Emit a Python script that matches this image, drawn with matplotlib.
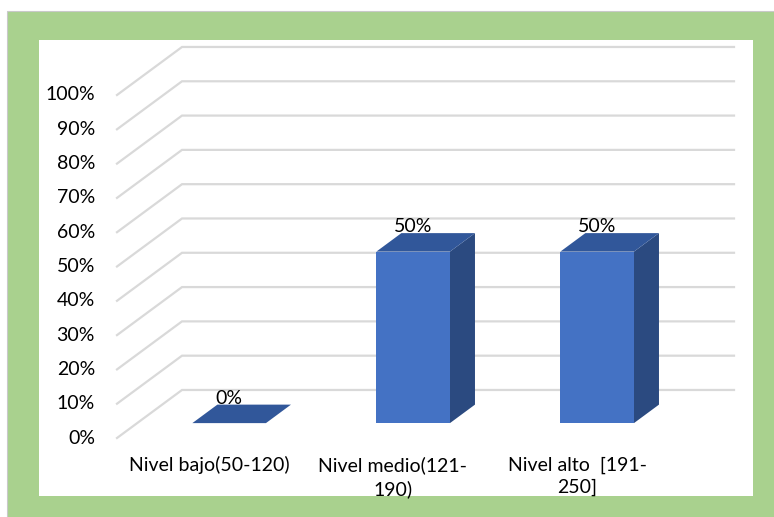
import matplotlib
matplotlib.use("Agg")
import matplotlib.pyplot as plt
from matplotlib.patches import Polygon, Rectangle

# Datos
categorias = ["Nivel bajo(50-120)", "Nivel medio(121-\n190)", "Nivel alto  [191-\n250]"]
valores = [0, 50, 50]
ticks = list(range(0, 101, 10))

plt.rcParams["font.family"] = ["Lato", "DejaVu Sans"]

# Proyección oblicua: x en "ranuras" de categoría, v en %, d = profundidad 0..1
DX, DV = 0.3533, 14.0


def proj(x, v, d):
    return x + d * DX, v + d * DV


W, H = 774, 517
fig = plt.figure(figsize=(W / 100, H / 100), dpi=100)

# Marco verde y fondo blanco del gráfico
fig.patches.append(Rectangle((7 / W, -0.01), 1, 1.01 - 11 / H, transform=fig.transFigure,
                             facecolor="#A9D18E", edgecolor="#C9C9C9", lw=0.8, zorder=0))
fig.patches.append(Rectangle((39 / W, 21 / H), 714 / W, 456 / H, transform=fig.transFigure,
                             facecolor="white", edgecolor="none", zorder=1))

ax = fig.add_axes([0, 0, 1, 1])
ax.set_zorder(3)
ax.set_xlim(-117 / 184, (W - 117) / 184)
ax.set_ylim((438 - H) / 3.43, 438 / 3.43)
ax.axis("off")
ax.patch.set_alpha(0)

n = len(categorias)
fs = 14

# Líneas de la cuadrícula: pared izquierda + pared del fondo
for v in ticks:
    pts = [proj(0, v, 0), proj(0, v, 1), proj(n, v, 1)]
    ax.plot([p[0] for p in pts], [p[1] for p in pts], color="#D9D9D9", lw=1.6,
            solid_joinstyle="miter", zorder=2)
    ax.text(-0.12, v, f"{v}%", ha="right", va="center", fontsize=fs, color="#000000")

# Barras 3D
ancho, d0, d1 = 0.4, 0.31, 0.695
for i, val in enumerate(valores):
    x0 = i + 0.5 - ancho / 2
    x1 = i + 0.5 + ancho / 2
    frente = [proj(x0, 0, d0), proj(x1, 0, d0), proj(x1, val, d0), proj(x0, val, d0)]
    lado = [proj(x1, 0, d0), proj(x1, 0, d1), proj(x1, val, d1), proj(x1, val, d0)]
    tapa = [proj(x0, val, d0), proj(x1, val, d0), proj(x1, val, d1), proj(x0, val, d1)]
    ax.add_patch(Polygon(lado, closed=True, facecolor="#2B4A80", edgecolor="none", zorder=3))
    ax.add_patch(Polygon(frente, closed=True, facecolor="#4472C4", edgecolor="none", zorder=4))
    ax.add_patch(Polygon(tapa, closed=True, facecolor="#31579A", edgecolor="none", zorder=4))
    lx, ly = proj(i + 0.5, val + 7.3, d0)
    ax.text(lx, ly, f"{val}%", ha="center", va="center", fontsize=fs, zorder=5)

# Etiquetas de categoría
for i, cat in enumerate(categorias):
    ax.text(i + 0.5, -5.3, cat, ha="center", va="top", fontsize=fs,
            linespacing=1.4, zorder=5)

fig.savefig("out.png", dpi=100)
